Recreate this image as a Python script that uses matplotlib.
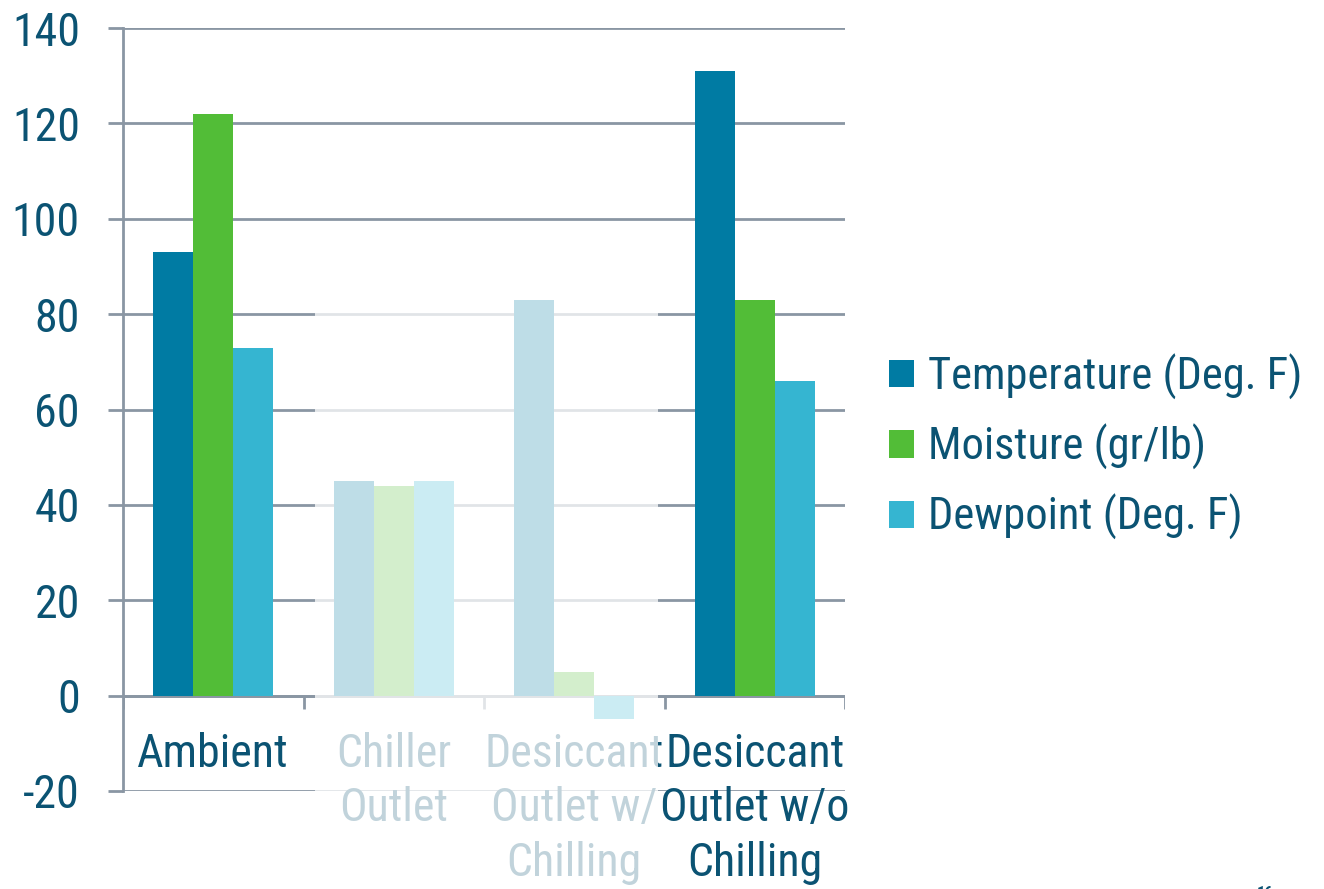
import numpy as np
import matplotlib
matplotlib.use("Agg")
import matplotlib.pyplot as plt
from matplotlib.patches import Rectangle, Patch

plt.rcParams['font.family'] = ['Roboto Condensed', 'DejaVu Sans']

categories = ['Ambient', 'Chiller\nOutlet', 'Desiccant\nOutlet w/\nChilling',
              'Desiccant\nOutlet w/o\nChilling']
series = ['Temperature (Deg. F)', 'Moisture (gr/lb)', 'Dewpoint (Deg. F)']
temperature = [93, 45, 83, 131]
moisture = [122, 44, 5, 83]
dewpoint = [73, 45, -5, 66]
y_ticks = [-20, 0, 20, 40, 60, 80, 100, 120, 140]

colors = ['#007BA3', '#52BD37', '#35B5D1']
text_col = '#0B5373'
grid_col = '#8A96A3'

W, H = 1324, 889
fig = plt.figure(figsize=(W / 100, H / 100), dpi=100)
ax = fig.add_axes([123 / W, 1 - 791 / H, (845 - 123) / W, (791 - 28) / H])

x = np.arange(len(categories))
bw = 0.222
for k, vals in enumerate([temperature, moisture, dewpoint]):
    ax.bar(x + (k - 1) * bw, vals, bw, color=colors[k], label=series[k],
           zorder=3, linewidth=0)

ax.set_xlim(-0.5, len(categories) - 0.5)
ax.set_ylim(-20, 140)
ax.set_yticks(y_ticks)
ax.set_yticklabels([str(v) for v in y_ticks])
ax.tick_params(axis='y', length=11, width=2, color=grid_col, pad=20,
               labelsize=33, labelcolor=text_col)
ax.set_xticks([])
ax.yaxis.grid(True, color=grid_col, linewidth=2, zorder=1)
ax.set_axisbelow(True)
for s in ['top', 'right', 'bottom']:
    ax.spines[s].set_visible(False)
ax.spines['left'].set_color(grid_col)
ax.spines['left'].set_linewidth(2)

# category axis at zero with separators
ax.axhline(0, color=grid_col, linewidth=2, zorder=2)
ax.vlines(np.arange(len(categories) + 1) - 0.5, -2.8, 0, color=grid_col,
          linewidth=2, zorder=2)
for i, lab in enumerate(categories):
    ax.text(i, -7.6, lab, ha='center', va='top', fontsize=33, color=text_col,
            linespacing=1.3, clip_on=False)

handles = [Patch(facecolor=c, edgecolor='none') for c in colors]
fig.legend(handles, series, loc='center left', bbox_to_anchor=(849 / W, 1 - 447 / H),
           frameon=False, fontsize=32, labelcolor=text_col, handlelength=0.57,
           handleheight=0.57, handletextpad=0.3, labelspacing=0.55)

# faded middle categories
fig.add_artist(Rectangle((315 / W, 0), (658 - 315) / W, 1 - 242 / H,
                         transform=fig.transFigure, facecolor='white',
                         edgecolor='none', alpha=0.75, zorder=10))

fig.text(1265 / W, -4 / H, '16', ha='center', va='center', fontsize=12,
         color=text_col, fontweight='bold')

fig.savefig('out.png', dpi=100)
